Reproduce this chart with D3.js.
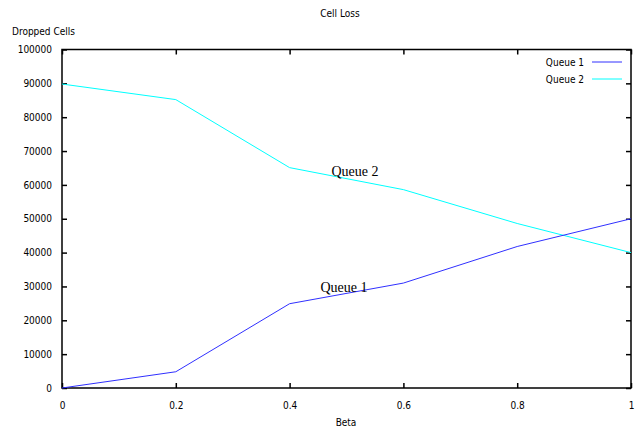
<!DOCTYPE html>
<html>
<head>
<meta charset="utf-8">
<script src="https://cdn.jsdelivr.net/npm/d3@7"></script>
<style>
  body { margin: 0; background: #fff; }
  svg text { font-family: "DejaVu Sans Condensed", "DejaVu Sans", sans-serif; font-size: 10px; fill: #000; }
  .lbl { font-family: "Liberation Serif", "DejaVu Serif", serif; font-size: 14px; }
</style>
</head>
<body>
<div id="chart"></div>
<script>
// dữ liệu
var beta = [0, 0.2, 0.4, 0.6, 0.8, 1];
var queue1 = [0, 4800, 24900, 31000, 41800, 50000];
var queue2 = [89800, 85200, 65100, 58600, 48600, 40000];
var xTicks = [0, 0.2, 0.4, 0.6, 0.8, 1];
var yTicks = [0, 10000, 20000, 30000, 40000, 50000, 60000, 70000, 80000, 90000, 100000];

var width = 639, height = 432;
var plotLeft = 62, plotRight = 631, plotTop = 49.5, plotBottom = 388;

var svg = d3.select("#chart").append("svg")
    .attr("width", width)
    .attr("height", height);

var x = d3.scaleLinear().domain([0, 1]).range([plotLeft, plotRight]);
var y = d3.scaleLinear().domain([0, 100000]).range([plotBottom, plotTop]);

// trục: tick hướng vào trong ở cả 4 cạnh
var gx = svg.append("g").attr("transform", "translate(0," + plotBottom + ")")
    .call(d3.axisBottom(x).tickValues(xTicks).tickSize(-5).tickPadding(14)
        .tickFormat(function(d) { return d == 0 || d == 1 ? d3.format("d")(d) : d3.format(".1f")(d); }));
var gxt = svg.append("g").attr("transform", "translate(0," + plotTop + ")")
    .call(d3.axisTop(x).tickValues(xTicks).tickSize(-5).tickFormat(""));
var gy = svg.append("g").attr("transform", "translate(" + plotLeft + ",0)")
    .call(d3.axisLeft(y).tickValues(yTicks).tickSize(-5).tickPadding(10).tickFormat(d3.format("d")));
var gyr = svg.append("g").attr("transform", "translate(" + plotRight + ",0)")
    .call(d3.axisRight(y).tickValues(yTicks).tickSize(-5).tickFormat(""));

[gx, gxt, gy, gyr].forEach(function(g) {
    g.attr("font-family", null).attr("font-size", null);
    g.select(".domain").remove();
    g.selectAll(".tick line").attr("stroke", "#000").attr("stroke-width", 1.5);
});

svg.append("rect")
    .attr("x", plotLeft).attr("y", plotTop)
    .attr("width", plotRight - plotLeft).attr("height", plotBottom - plotTop)
    .attr("fill", "none").attr("stroke", "#000").attr("stroke-width", 1.5);

var line = function(vals) {
    return d3.line()
        .x(function(d, i) { return x(beta[i]); })
        .y(function(d) { return y(d); })(vals);
};

svg.append("path").attr("d", line(queue2)).attr("fill", "none").attr("stroke", "#00ffff").attr("stroke-width", 1);
svg.append("path").attr("d", line(queue1)).attr("fill", "none").attr("stroke", "#3030ff").attr("stroke-width", 1);

// tiêu đề và nhãn
svg.append("text").attr("x", 340).attr("y", 17).attr("text-anchor", "middle").text("Cell Loss");
svg.append("text").attr("x", 12).attr("y", 35).text("Dropped Cells");
svg.append("text").attr("x", 346).attr("y", 426).attr("text-anchor", "middle").text("Beta");

svg.append("text").attr("class", "lbl").attr("x", 355).attr("y", 176).attr("text-anchor", "middle").text("Queue 2");
svg.append("text").attr("class", "lbl").attr("x", 344).attr("y", 292).attr("text-anchor", "middle").text("Queue 1");

// chú thích
var legend = [["Queue 1", "#3030ff", 62], ["Queue 2", "#00ffff", 79]];
legend.forEach(function(l) {
    svg.append("text").attr("x", 584).attr("y", l[2] + 3.5).attr("text-anchor", "end").text(l[0]);
    svg.append("line").attr("x1", 592).attr("x2", 622).attr("y1", l[2]).attr("y2", l[2])
        .attr("stroke", l[1]).attr("stroke-width", 1);
});
</script>
</body>
</html>
